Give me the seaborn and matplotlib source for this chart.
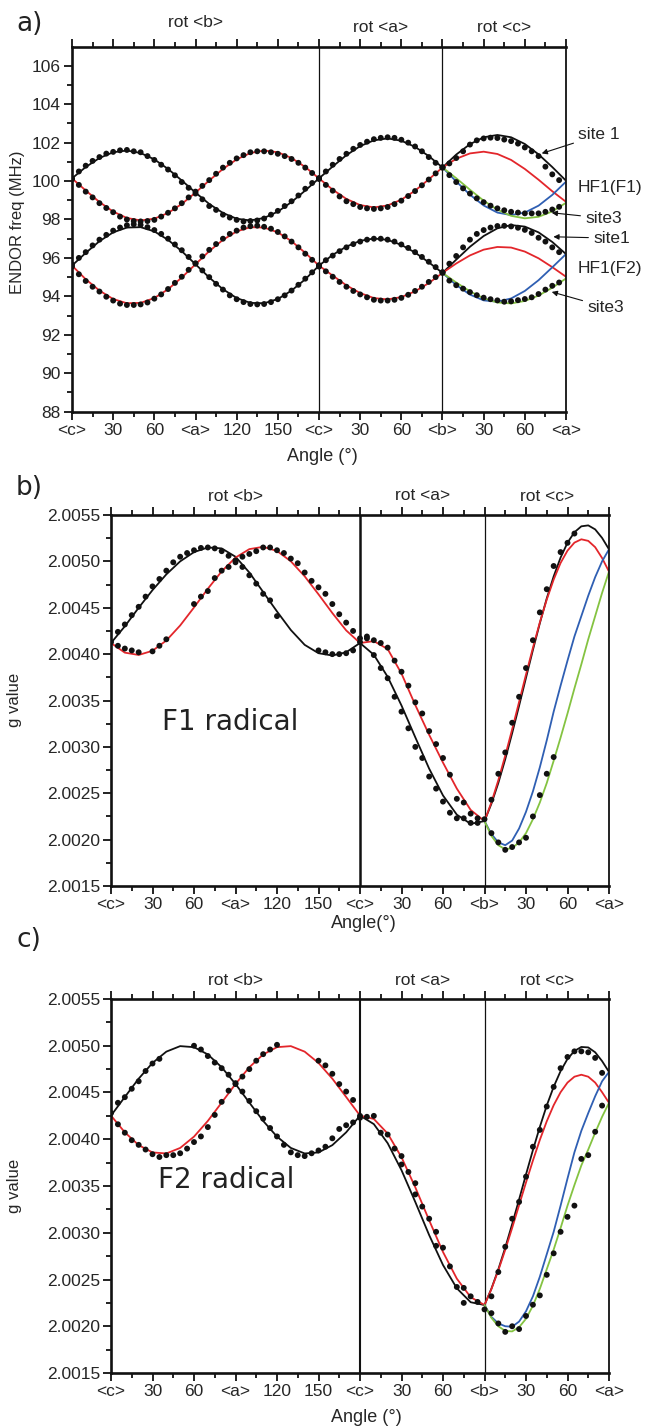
import numpy as np
import matplotlib
matplotlib.use('Agg')
import matplotlib.pyplot as plt
import seaborn as sns

sns.set_theme(style='ticks')
plt.rcParams['font.family'] = ['Liberation Sans', 'DejaVu Sans']

BLACK = '#111111'
RED = '#e3262b'
BLUE = '#2f5fb3'
GREEN = '#84c341'

# angle grids (deg) for the three rotations
rot_b10 = np.arange(0, 181, 10)
rot_a10 = np.arange(180, 271, 10)
rot_c10 = np.arange(270, 361, 10)
rot_b5 = np.arange(0, 181, 5)
rot_a5 = np.arange(180, 271, 5)
rot_c5 = np.arange(270, 361, 5)

x_ticklabels = ['<c>', '30', '60', '<a>', '120', '150', '<c>', '30', '60', '<b>', '30', '60', '<a>']

# ---------------- a) ENDOR frequencies (MHz) ----------------
# fitted curves, HF1(F1) = upper group, HF1(F2) = lower group
a_up_black_b = [100.14, 100.73, 101.20, 101.50, 101.59, 101.46, 101.13, 100.63, 100.03, 99.40,
                98.81, 98.34, 98.04, 97.95, 98.08, 98.41, 98.91, 99.51, 100.14]
a_up_red_b = [100.14, 99.51, 98.91, 98.41, 98.08, 97.95, 98.04, 98.34, 98.81, 99.40,
              100.03, 100.63, 101.13, 101.46, 101.59, 101.50, 101.20, 100.73, 100.14]
a_lo_black_b = [95.60, 96.26, 96.87, 97.33, 97.58, 97.60, 97.38, 96.94, 96.35, 95.67,
                94.98, 94.37, 93.91, 93.66, 93.64, 93.86, 94.30, 94.89, 95.60]
a_lo_red_b = [95.60, 94.89, 94.30, 93.86, 93.64, 93.66, 93.91, 94.37, 94.98, 95.67,
              96.35, 96.94, 97.38, 97.60, 97.58, 97.33, 96.87, 96.26, 95.60]

a_up_black_a = [100.14, 100.76, 101.35, 101.82, 102.12, 102.22, 102.10, 101.78, 101.30, 100.71]
a_up_red_a = [100.14, 99.55, 99.07, 98.75, 98.63, 98.73, 99.03, 99.50, 100.09, 100.71]
a_lo_black_a = [95.60, 96.16, 96.59, 96.89, 97.01, 96.94, 96.68, 96.28, 95.77, 95.22]
a_lo_red_a = [95.60, 95.08, 94.57, 94.17, 93.91, 93.84, 93.96, 94.26, 94.69, 95.22]

a_up_black_c = [100.71, 101.38, 101.92, 102.28, 102.40, 102.28, 101.93, 101.39, 100.73, 100.02]
a_up_red_c = [100.71, 101.16, 101.44, 101.53, 101.41, 101.10, 100.63, 100.07, 99.47, 98.92]
a_up_blue_c = [100.71, 99.98, 99.29, 98.73, 98.36, 98.23, 98.36, 98.72, 99.28, 99.97]
a_up_green_c = [100.71, 100.15, 99.55, 98.98, 98.51, 98.19, 98.06, 98.14, 98.42, 98.87]
a_lo_black_c = [95.22, 95.91, 96.58, 97.14, 97.54, 97.71, 97.63, 97.33, 96.83, 96.20]
a_lo_red_c = [95.22, 95.71, 96.13, 96.43, 96.57, 96.54, 96.33, 95.98, 95.52, 95.02]
a_lo_blue_c = [95.22, 94.59, 94.09, 93.79, 93.72, 93.89, 94.28, 94.84, 95.51, 96.20]
a_lo_green_c = [95.22, 94.72, 94.26, 93.90, 93.68, 93.63, 93.76, 94.04, 94.45, 94.93]

# measured points
a_dots_up_black_b = [100.14, 100.50, 100.80, 101.05, 101.25, 101.43, 101.52, 101.60, 101.62, 101.55,
                     101.50, 101.30, 101.10, 100.85, 100.60, 100.30, 99.95, 99.65, 99.35, 99.05,
                     98.70, 98.50, 98.25, 98.10, 97.98, 97.90, 97.92, 97.95, 98.05, 98.25,
                     98.45, 98.70, 98.95, 99.25, 99.60, 99.90, 100.15]
a_dots_up_red_b = [100.10, 99.80, 99.45, 99.15, 98.85, 98.60, 98.38, 98.15, 98.00, 97.92,
                   97.90, 97.92, 97.98, 98.15, 98.35, 98.58, 98.85, 99.15, 99.45, 99.75,
                   100.05, 100.38, 100.70, 100.95, 101.18, 101.35, 101.50, 101.55, 101.55, 101.50,
                   101.42, 101.30, 101.15, 100.95, 100.70, 100.42, 100.12]
a_dots_lo_black_b = [95.65, 96.00, 96.30, 96.65, 96.95, 97.20, 97.42, 97.58, 97.70, 97.75,
                     97.72, 97.60, 97.45, 97.25, 97.00, 96.70, 96.40, 96.05, 95.70, 95.35,
                     95.00, 94.65, 94.35, 94.05, 93.85, 93.70, 93.60, 93.58, 93.60, 93.70,
                     93.85, 94.05, 94.30, 94.60, 94.92, 95.25, 95.60]
a_dots_lo_red_b = [95.55, 95.15, 94.80, 94.50, 94.25, 93.98, 93.78, 93.62, 93.55, 93.55,
                   93.58, 93.68, 93.88, 94.10, 94.38, 94.70, 95.02, 95.38, 95.72, 96.08,
                   96.42, 96.72, 97.00, 97.25, 97.42, 97.58, 97.65, 97.68, 97.62, 97.52,
                   97.35, 97.12, 96.85, 96.55, 96.22, 95.90, 95.55]
a_dots_up_black_a = [100.12, 100.50, 100.85, 101.15, 101.42, 101.68, 101.88, 102.05, 102.18, 102.25,
                     102.28, 102.25, 102.15, 102.00, 101.80, 101.55, 101.25, 100.95, 100.70]
a_dots_up_red_a = [100.14, 99.80, 99.50, 99.20, 98.95, 98.80, 98.65, 98.58, 98.55, 98.58,
                   98.65, 98.80, 98.98, 99.22, 99.48, 99.78, 100.08, 100.40, 100.72]
a_dots_lo_black_a = [95.62, 95.88, 96.12, 96.35, 96.55, 96.72, 96.85, 96.95, 97.00, 97.00,
                     96.95, 96.85, 96.70, 96.52, 96.30, 96.05, 95.80, 95.52, 95.25]
a_dots_lo_red_a = [95.58, 95.30, 95.02, 94.75, 94.50, 94.28, 94.10, 93.95, 93.82, 93.78,
                   93.78, 93.82, 93.92, 94.08, 94.28, 94.50, 94.75, 95.00, 95.25]
a_dots_up_site1_c = [100.71, 100.92, 101.20, 101.55, 101.90, 102.12, 102.22, 102.26, 102.24, 102.16,
                     102.08, 101.95, 101.75, 101.55, 101.30, 100.75, 100.35, 100.05, np.nan]
a_dots_up_site3_c = [np.nan, 100.31, 99.95, 99.62, 99.35, 99.10, 98.90, 98.72, 98.58, 98.48,
                     98.40, 98.36, 98.32, 98.32, 98.32, 98.40, 98.52, 98.66, np.nan]
a_dots_lo_site1_c = [95.22, 95.70, 96.10, 96.55, 96.95, 97.25, 97.45, 97.58, 97.66, 97.67,
                     97.64, 97.57, 97.46, 97.30, 97.05, 96.85, 96.55, 96.30, np.nan]
a_dots_lo_site3_c = [np.nan, 94.82, 94.58, 94.40, 94.22, 94.06, 93.93, 93.85, 93.79, 93.72,
                     93.74, 93.80, 93.86, 93.95, 94.12, 94.35, 94.55, 94.72, np.nan]

# ---------------- b) F1 radical, g value in units of 1e-4 above 2.0000 ----------------
b_black_b = [41.2, 43.0, 45.0, 46.9, 48.6, 50.0, 51.0, 51.5, 51.4, 50.5,
             48.8, 46.7, 44.6, 42.6, 41.0, 40.1, 39.85, 40.2, 41.2]
b_red_b = [41.2, 40.16, 39.91, 40.36, 41.47, 43.09, 45.03, 47.05, 48.92, 50.41,
           51.32, 51.57, 51.12, 50.01, 48.39, 46.45, 44.43, 42.56, 41.2]
b_black_a = [41.2, 39.93, 37.55, 34.46, 31.02, 27.65, 24.76, 22.69, 21.70, 22.0]
b_red_a = [41.2, 41.4, 40.55, 37.9, 34.5, 31.3, 28.3, 25.5, 23.2, 22.0]
b_black_c = [22.0, 23.87, 26.11, 28.67, 31.48, 34.43, 37.45, 40.45, 43.33, 46.01,
             48.38, 50.41, 52.01, 53.14, 53.78, 53.88, 53.45, 52.53, 51.3]
b_red_c = [22.0, 24.02, 26.41, 29.06, 31.90, 34.84, 37.80, 40.68, 43.42, 45.88,
           48.04, 49.83, 51.16, 52.02, 52.38, 52.21, 51.53, 50.36, 48.9]
b_blue_c = [22.0, 20.6, 19.7, 19.4, 19.9, 21.2, 23.0, 25.2, 27.8, 30.7,
            33.8, 36.6, 39.3, 41.9, 44.1, 46.3, 48.3, 50.0, 51.3]
b_green_c = [22.0, 20.4, 19.4, 18.95, 19.1, 19.7, 20.7, 22.2, 24.0, 26.1,
             28.5, 31.0, 33.6, 36.3, 38.9, 41.6, 44.1, 46.6, 48.9]

b_dots_black_b = [41.3, 42.4, 43.2, 44.2, 45.1, 46.2, 47.3, 48.1, 49.0, 49.9,
                  50.5, 50.9, 51.2, 51.45, 51.5, 51.4, 51.1, 50.6, 50.1, 49.4,
                  48.5, 47.6, 46.5, 45.8, 44.1, np.nan, np.nan, np.nan, np.nan, np.nan,
                  40.4, 40.2, 40.0, 40.0, 40.1, 40.4, np.nan]
b_dots_red_b = [np.nan, 40.9, 40.6, 40.4, 40.2, np.nan, 40.3, 40.9, 41.6, np.nan,
                np.nan, np.nan, 45.4, 46.2, 46.8, 48.2, 49.0, 49.4, 49.9, 50.5,
                50.8, 51.1, 51.5, 51.5, 51.2, 50.9, 50.3, 49.8, 48.8, 47.9,
                47.2, 46.5, 45.4, 44.3, 43.4, 42.5, 41.7]
b_dots_black_a = [41.3, 41.9, 39.9, 38.5, 37.4, 35.4, 33.8, 32.0, 30.0, 28.8,
                  26.8, 25.5, 24.1, 22.9, 22.3, 22.3, 21.8, 21.8, 22.2]
b_dots_red_a = [np.nan, 41.7, 41.5, 41.2, 40.7, 39.3, 38.1, 36.6, 34.8, 33.6,
                31.7, 30.3, 28.8, 27.0, 24.4, 24.0, 22.8, 22.3, np.nan]
b_dots_up_c = [np.nan, 24.3, 27.1, 29.4, 32.6, 35.4, 38.5, 41.5, 44.5, 47.0,
               49.5, 51.0, 52.0, 53.0, np.nan, np.nan, np.nan, np.nan, np.nan]
b_dots_lo_c = [np.nan, 20.7, 19.7, 18.9, 19.2, 19.7, 20.2, 22.5, 24.8, 27.1,
               28.9, np.nan, np.nan, np.nan, np.nan, np.nan, np.nan, np.nan, np.nan]

# ---------------- c) F2 radical ----------------
c_black_b = [42.53, 44.52, 46.48, 48.16, 49.37, 49.96, 49.85, 49.07, 47.70, 45.91,
             43.92, 41.96, 40.28, 39.07, 38.48, 38.59, 39.37, 40.74, 42.53]
c_red_b = [42.53, 40.74, 39.37, 38.59, 38.48, 39.07, 40.28, 41.96, 43.92, 45.91,
           47.70, 49.07, 49.85, 49.96, 49.37, 48.16, 46.48, 44.52, 42.53]
c_black_a = [42.53, 41.62, 39.58, 36.69, 33.28, 29.75, 26.55, 24.06, 22.57, 22.27]
c_red_a = [42.53, 42.17, 40.61, 38.07, 34.85, 31.33, 27.94, 25.09, 23.11, 22.27]
c_black_c = [22.27, 24.02, 26.09, 28.41, 30.93, 33.56, 36.23, 38.84, 41.32, 43.61,
             45.61, 47.29, 48.59, 49.44, 49.87, 49.82, 49.30, 48.36, 47.2]
c_red_c = [22.27, 23.98, 25.98, 28.18, 30.52, 32.95, 35.38, 37.72, 39.93, 41.92,
           43.64, 45.03, 46.06, 46.69, 46.90, 46.69, 46.06, 45.03, 43.9]
c_blue_c = [22.27, 21.0, 20.3, 20.0, 19.95, 20.5, 21.6, 23.2, 25.3, 27.7,
            30.1, 32.9, 35.8, 38.6, 40.9, 42.8, 44.6, 46.2, 47.2]
c_green_c = [22.27, 20.9, 20.0, 19.5, 19.45, 19.9, 20.8, 22.2, 24.0, 26.1,
             28.2, 30.5, 32.9, 35.1, 37.2, 38.9, 40.7, 42.4, 43.9]

c_dots_black_b = [42.8, 43.9, 44.5, 45.4, 46.2, 47.3, 48.1, 48.6, np.nan, np.nan,
                  np.nan, np.nan, 50.0, 49.6, 48.9, 48.2, 47.6, 46.9, 45.9, 45.1,
                  44.1, 43.0, 42.2, 41.2, 40.3, 39.4, 38.6, 38.3, 38.2, 38.5,
                  38.8, 39.2, 40.1, 41.1, 41.5, 41.8, 42.3]
c_dots_red_b = [np.nan, 41.6, 40.7, 39.9, 39.4, 38.9, 38.4, 38.1, 38.3, 38.3,
                38.5, 39.0, 39.7, 40.3, 41.3, 42.6, 44.0, 45.2, 46.0, 46.7,
                47.5, 48.4, 49.1, 49.6, 50.1, np.nan, np.nan, np.nan, np.nan, np.nan,
                48.4, 47.9, 47.0, 45.9, 45.1, 44.2, np.nan]
c_dots_black_a = [42.5, 42.4, 42.5, 40.7, 40.5, 39.0, 38.2, 36.5, 35.3, 32.8,
                  31.5, 30.1, 28.4, 26.4, 24.2, 22.5, 23.2, 22.6, 21.8]
c_dots_red_a = [np.nan, np.nan, np.nan, np.nan, np.nan, np.nan, 37.3, np.nan, 34.1, np.nan,
                np.nan, 28.6, np.nan, np.nan, np.nan, 24.1, np.nan, np.nan, np.nan]
c_dots_up_c = [np.nan, 23.2, 25.8, 28.5, 31.5, 33.3, 36.0, 39.2, 41.0, 43.5,
               45.6, 47.6, 48.8, 49.4, 49.4, 49.3, 48.7, 47.1, np.nan]
c_dots_lo_c = [np.nan, 21.4, 20.3, 19.4, 20.0, 19.7, 21.1, 22.3, 23.3, 25.5,
               27.8, 30.1, 31.7, 32.9, 37.9, 38.3, 40.8, 43.6, np.nan]


def g(m):
    # values above are stored as (g - 2) * 1e4
    return 2.0 + np.asarray(m, dtype=float) * 1e-4


def curve(ax, x, y, color):
    sns.lineplot(x=x, y=y, ax=ax, color=color, lw=1.3, estimator=None,
                 sort=False, legend=False)


def dots(ax, x, y):
    sns.scatterplot(x=x, y=y, ax=ax, color=BLACK, s=18, edgecolor='none',
                    zorder=3, legend=False)


def style(ax, ylim, yticks, yminor, yfmt, lw180, rot_offsets):
    ax.set_xlim(0, 360)
    ax.set_ylim(*ylim)
    ax.set_xticks(np.arange(0, 361, 30))
    ax.set_xticklabels(x_ticklabels)
    ax.set_xticks(np.arange(15, 360, 30), minor=True)
    ax.set_yticks(yticks)
    ax.set_yticklabels([yfmt % t for t in yticks])
    ax.set_yticks(yminor, minor=True)
    ax.tick_params(which='both', direction='out', top=True, right=False,
                   width=1.3, labelsize=12.5, pad=2, color='#111111')
    ax.tick_params(which='major', length=6)
    ax.tick_params(which='minor', length=3.5)
    for s in ['left', 'bottom', 'top']:
        ax.spines[s].set_linewidth(1.9)
        ax.spines[s].set_color('#111111')
    ax.spines['right'].set_linewidth(1.3)
    ax.spines['right'].set_color('#111111')
    ax.axvline(180, color=BLACK, lw=lw180, zorder=1)
    ax.axvline(270, color=BLACK, lw=0.9, zorder=1)
    ax.set_xlabel('')
    ax.set_ylabel('')
    for xc, txt, off in zip([90, 225, 315], ['rot <b>', 'rot <a>', 'rot <c>'], rot_offsets):
        ax.annotate(txt, xy=(xc, 1), xycoords=('data', 'axes fraction'),
                    xytext=(0, off), textcoords='offset points',
                    ha='center', va='center', fontsize=12.5, annotation_clip=False)


W, H = 646, 1427
fig = plt.figure(figsize=(W / 100, H / 100), dpi=100)
fig.patch.set_facecolor('white')

ax_a = fig.add_axes([72 / W, 1 - 411.6 / H, 494 / W, 365 / H])
ax_b = fig.add_axes([111 / W, 1 - 886 / H, 498 / W, 371 / H])
ax_c = fig.add_axes([111 / W, 1 - 1373 / H, 498 / W, 374 / H])

# panel a
for ys, col in [(a_up_black_b, BLACK), (a_up_red_b, RED), (a_lo_black_b, BLACK), (a_lo_red_b, RED)]:
    curve(ax_a, rot_b10, ys, col)
for ys, col in [(a_up_black_a, BLACK), (a_up_red_a, RED), (a_lo_black_a, BLACK), (a_lo_red_a, RED)]:
    curve(ax_a, rot_a10, ys, col)
for ys, col in [(a_up_black_c, BLACK), (a_up_red_c, RED), (a_up_blue_c, BLUE), (a_up_green_c, GREEN),
                (a_lo_black_c, BLACK), (a_lo_red_c, RED), (a_lo_blue_c, BLUE), (a_lo_green_c, GREEN)]:
    curve(ax_a, rot_c10, ys, col)
for ys in [a_dots_up_black_b, a_dots_up_red_b, a_dots_lo_black_b, a_dots_lo_red_b]:
    dots(ax_a, rot_b5, ys)
for ys in [a_dots_up_black_a, a_dots_up_red_a, a_dots_lo_black_a, a_dots_lo_red_a]:
    dots(ax_a, rot_a5, ys)
for ys in [a_dots_up_site1_c, a_dots_up_site3_c, a_dots_lo_site1_c, a_dots_lo_site3_c]:
    dots(ax_a, rot_c5, ys)
style(ax_a, (88, 107), np.arange(88, 107, 2), np.arange(89, 107, 2), '%d', 0.9, (17, 14, 14))

arrow = dict(arrowstyle='-|>', color=BLACK, lw=0.8, mutation_scale=8, shrinkA=1, shrinkB=0)
for txt, xy, xytext in [('site 1', (342.3, 101.44), (368.8, 102.40)),
                        ('site3', (349.6, 98.35), (373.9, 98.07)),
                        ('site1', (350.8, 97.10), (379.7, 97.03)),
                        ('site3', (349.6, 94.23), (375.4, 93.44))]:
    ax_a.annotate(txt, xy=xy, xytext=xytext, textcoords='data', ha='left', va='center',
                  fontsize=12.5, annotation_clip=False, arrowprops=arrow)
ax_a.text(368.8, 99.64, 'HF1(F1)', ha='left', va='center', fontsize=12.5, clip_on=False)
ax_a.text(368.8, 95.47, 'HF1(F2)', ha='left', va='center', fontsize=12.5, clip_on=False)

# panel b
for ys, col in [(b_black_b, BLACK), (b_red_b, RED)]:
    curve(ax_b, rot_b10, g(ys), col)
for ys, col in [(b_black_a, BLACK), (b_red_a, RED)]:
    curve(ax_b, rot_a10, g(ys), col)
for ys, col in [(b_black_c, BLACK), (b_red_c, RED), (b_blue_c, BLUE), (b_green_c, GREEN)]:
    curve(ax_b, rot_c5, g(ys), col)
for ys in [b_dots_black_b, b_dots_red_b]:
    dots(ax_b, rot_b5, g(ys))
for ys in [b_dots_black_a, b_dots_red_a]:
    dots(ax_b, rot_a5, g(ys))
for ys in [b_dots_up_c, b_dots_lo_c]:
    dots(ax_b, rot_c5, g(ys))
g_ticks = g(np.arange(15, 56, 5))
g_minor = g(np.arange(17.5, 55, 5))
style(ax_b, (2.0015, 2.0055), g_ticks, g_minor, '%.4f', 1.8, (13, 14, 13))
ax_b.text(0.102, 0.442, 'F1 radical', transform=ax_b.transAxes, fontsize=20,
          family='DejaVu Sans', ha='left', va='center', color='#222222')

# panel c
for ys, col in [(c_black_b, BLACK), (c_red_b, RED)]:
    curve(ax_c, rot_b10, g(ys), col)
for ys, col in [(c_black_a, BLACK), (c_red_a, RED)]:
    curve(ax_c, rot_a10, g(ys), col)
for ys, col in [(c_black_c, BLACK), (c_red_c, RED), (c_blue_c, BLUE), (c_green_c, GREEN)]:
    curve(ax_c, rot_c5, g(ys), col)
for ys in [c_dots_black_b, c_dots_red_b]:
    dots(ax_c, rot_b5, g(ys))
for ys in [c_dots_black_a, c_dots_red_a]:
    dots(ax_c, rot_a5, g(ys))
for ys in [c_dots_up_c, c_dots_lo_c]:
    dots(ax_c, rot_c5, g(ys))
style(ax_c, (2.0015, 2.0055), g_ticks, g_minor, '%.4f', 1.5, (13, 13, 13))
ax_c.text(0.095, 0.516, 'F2 radical', transform=ax_c.transAxes, fontsize=20,
          family='DejaVu Sans', ha='left', va='center', color='#222222')

# panel letters and axis titles
for txt, py in [('a)', 24), ('b)', 488), ('c)', 940)]:
    fig.text(16 / W, 1 - py / H, txt, fontsize=19, family='DejaVu Sans',
             ha='left', va='center', color='#222222')
fig.text(322 / W, 1 - 456 / H, 'Angle (°)', fontsize=13, ha='center', va='center')
fig.text(364 / W, 1 - 923 / H, 'Angle(°)', fontsize=13, ha='center', va='center')
fig.text(366 / W, 1 - 1418 / H, 'Angle (°)', fontsize=13, ha='center', va='center')
fig.text(18 / W, 1 - 222 / H, 'ENDOR freq (MHz)', fontsize=12, rotation=90, ha='center', va='center')
fig.text(15 / W, 1 - 700 / H, 'g value', fontsize=12, rotation=90, ha='center', va='center')
fig.text(15 / W, 1 - 1186 / H, 'g value', fontsize=12, rotation=90, ha='center', va='center')

fig.savefig('out.png', dpi=100, facecolor='white')
